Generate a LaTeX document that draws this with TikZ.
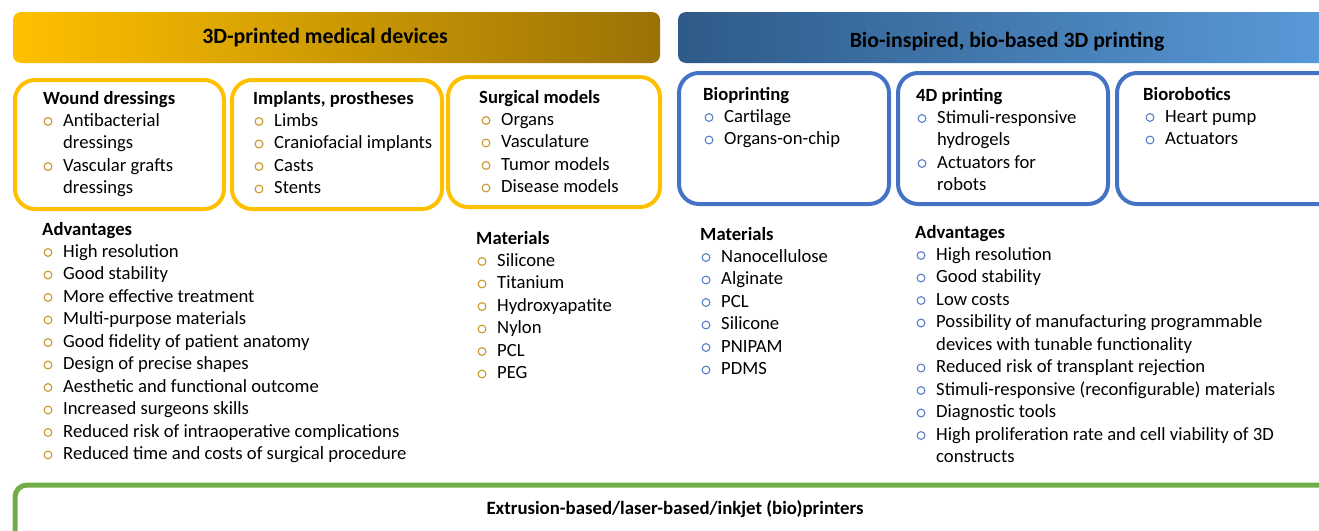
\documentclass[tikz,border=0pt]{standalone}
\usepackage{fontspec}
\setmainfont{Carlito}
\definecolor{yb}{HTML}{FFC000}
\definecolor{ydark}{HTML}{9A7206}
\definecolor{bdark}{HTML}{2E5A88}
\definecolor{blight}{HTML}{5A9BDA}
\definecolor{bb}{HTML}{4472C4}
\definecolor{gb}{HTML}{70AD47}
\definecolor{ybul}{HTML}{C99A2E}
\definecolor{bbul}{HTML}{5A80C8}
\tikzset{
  txt/.style={anchor=base west, inner sep=0pt, font=\fontsize{18.65}{22.5}\selectfont},
  hd/.style={anchor=base west, inner sep=0pt, font=\fontsize{18.65}{22.5}\selectfont\bfseries},
  ttl/.style={inner sep=0pt, font=\fontsize{21.8}{26}\selectfont\bfseries},
  bul/.style={circle, draw=#1, line width=1.1pt, inner sep=0pt, minimum size=7.8pt},
  ybox/.style={draw=yb, line width=4pt, rounded corners=20pt},
  bbox/.style={draw=bb, line width=4pt, rounded corners=20pt},
}
\newcommand\itemlist[5]{%
  \foreach \b/\t [count=\i from 0] in {#5}{%
    \node[txt] (#1t\i) at ({#2+15},{#3+\i*22.5}) {\t};
    \ifnum\b=1 \node[bul=#4] (#1b\i) at ({#2},{#3+\i*22.5-4.5}) {};\fi
  }}
\begin{document}
\begin{tikzpicture}[x=1pt,y=-1pt]
\useasboundingbox (0,0) rectangle (1319,530);
% banners
\shade[left color=yb, right color=ydark, rounded corners=8pt] (13,12) rectangle (660,63);
\node[ttl] (t1) at (325,38) {3D-printed medical devices};
\shade[left color=bdark, right color=blight, rounded corners=8pt] (678,12) rectangle (1340,63);
\node[ttl] (t2) at (1007,42) {Bio-inspired, bio-based 3D printing};
% boxes
\draw[ybox] (15,80) rectangle (224,209);
\draw[ybox] (232,80) rectangle (442,209);
\draw[ybox] (448,77) rectangle (660,207);
\draw[bbox] (679,73) rectangle (889,204);
\draw[bbox] (898,73) rectangle (1108,204);
\draw[bbox] (1117,73) rectangle (1345,204);
\draw[draw=gb, line width=5pt, rounded corners=12pt] (15,485) rectangle (1345,560);
\node[ttl, font=\fontsize{18.8}{22.5}\selectfont\bfseries] (t3) at (675,509) {Extrusion-based/laser-based/inkjet (bio)printers};
% box contents
\node[hd] (h1) at (43,104) {Wound dressings};
\itemlist{a}{48}{126}{ybul}{1/Antibacterial,0/dressings,1/Vascular grafts,0/dressings}
\node[hd] (h2) at (253,104) {Implants, prostheses};
\itemlist{c}{259}{126}{ybul}{1/Limbs,1/Craniofacial implants,1/Casts,1/Stents}
\node[hd] (h3) at (479,103) {Surgical models};
\itemlist{d}{486}{125}{ybul}{1/Organs,1/Vasculature,1/Tumor models,1/Disease models}
\node[hd] (h4) at (703,100) {Bioprinting};
\itemlist{e}{709}{122}{bbul}{1/Cartilage,1/Organs-on-chip}
\node[hd] (h5) at (916,101) {4D printing};
\itemlist{f}{922}{123}{bbul}{1/Stimuli-responsive,0/hydrogels,1/Actuators for,0/robots}
\node[hd] (h6) at (1143,100) {Biorobotics};
\itemlist{g}{1150}{122}{bbul}{1/Heart pump,1/Actuators}
% lower lists
\node[hd] (h7) at (42,235) {Advantages};
\itemlist{k}{48}{257}{ybul}{1/High resolution,1/Good stability,1/More effective treatment,1/Multi-purpose materials,1/Good fidelity of patient anatomy,1/Design of precise shapes,1/Aesthetic and functional outcome,1/Increased surgeons skills,1/Reduced risk of intraoperative complications,1/Reduced time and costs of surgical procedure}
\node[hd] (h8) at (476,244) {Materials};
\itemlist{m}{482}{266}{ybul}{1/Silicone,1/Titanium,1/Hydroxyapatite,1/Nylon,1/PCL,1/PEG}
\node[hd] (h9) at (700,240) {Materials};
\itemlist{n}{706}{262}{bbul}{1/Nanocellulose,1/Alginate,1/PCL,1/Silicone,1/PNIPAM,1/PDMS}
\node[hd] (h10) at (915,238) {Advantages};
\itemlist{p}{921}{260}{bbul}{1/High resolution,1/Good stability,1/Low costs,1/Possibility of manufacturing programmable,0/devices with tunable functionality,1/Reduced risk of transplant rejection,1/Stimuli-responsive (reconfigurable) materials,1/Diagnostic tools,1/High proliferation rate and cell viability of 3D,0/constructs}
\end{tikzpicture}
\end{document}
